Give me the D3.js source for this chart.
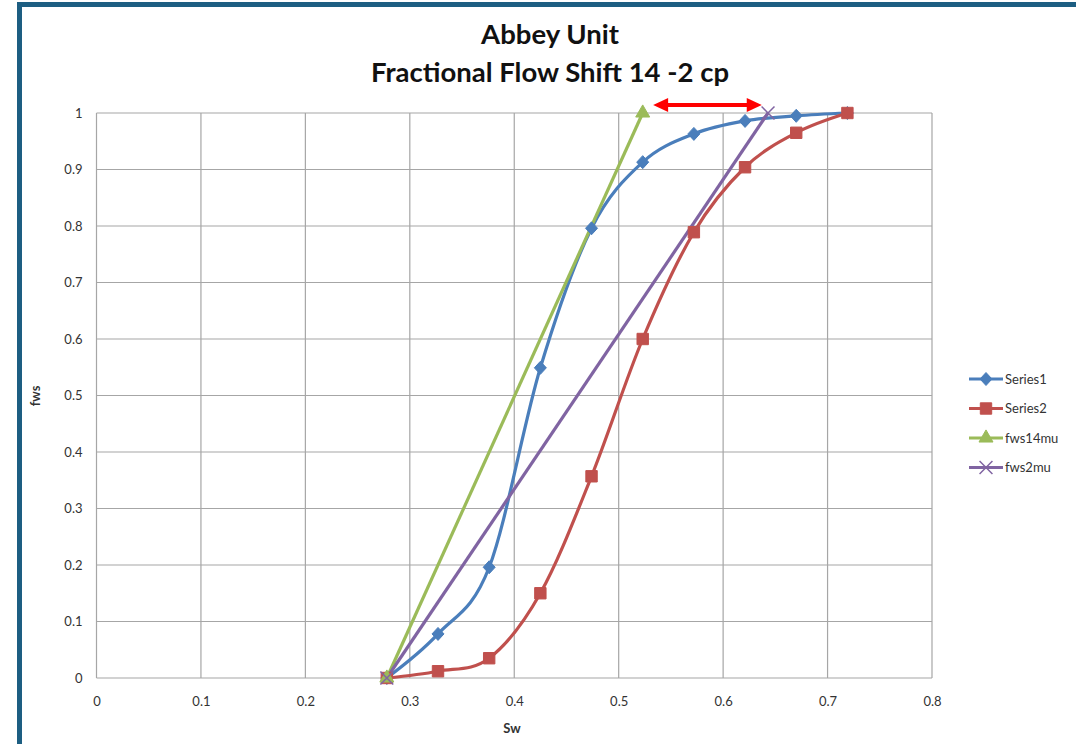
<!DOCTYPE html>
<html>
<head>
<meta charset="utf-8">
<script src="https://cdn.jsdelivr.net/npm/d3@7"></script>
<style>
  html, body { margin: 0; padding: 0; background: #fff; }
  svg { display: block; }
  text { font-family: Lato, "Open Sans", sans-serif; }
</style>
</head>
<body>
<svg id="chart" width="1076" height="744"></svg>
<script>
// ---- data ----
const sw = [0.278, 0.327, 0.376, 0.425, 0.474, 0.523, 0.572, 0.621, 0.670, 0.719];
const series1 = [0, 0.078, 0.196, 0.549, 0.796, 0.913, 0.963, 0.986, 0.995, 1.0];
const series2 = [0, 0.012, 0.035, 0.150, 0.357, 0.600, 0.789, 0.904, 0.965, 1.0];
const fws14muSw = [0.278, 0.523];
const fws14mu = [0, 1];
const fws2muSw = [0.278, 0.643];
const fws2mu = [0, 1];
const xTicks = [0, 0.1, 0.2, 0.3, 0.4, 0.5, 0.6, 0.7, 0.8];
const yTicks = [0, 0.1, 0.2, 0.3, 0.4, 0.5, 0.6, 0.7, 0.8, 0.9, 1];
const seriesNames = ["Series1", "Series2", "fws14mu", "fws2mu"];
const arrowSw = [0.533, 0.637];
const arrowY = 1.014;

const colors = ["#4A7EBB", "#C0504D", "#9BBB59", "#8064A2"];

const svg = d3.select("#chart");

// outer frame
svg.append("rect").attr("x", 19.5).attr("y", 4.5).attr("width", 1070).attr("height", 760)
  .attr("fill", "#fff").attr("stroke", "#1D5E82").attr("stroke-width", 5);

const x = d3.scaleLinear().domain([0, 0.8]).range([96.5, 932]);
const y = d3.scaleLinear().domain([0, 1]).range([678, 113]);

// gridlines
svg.append("g").selectAll("line.v").data(xTicks).join("line")
  .attr("x1", d => x(d)).attr("x2", d => x(d)).attr("y1", y(0)).attr("y2", y(1))
  .attr("stroke", "#A6A6A6").attr("stroke-width", 1.2);
svg.append("g").selectAll("line.h").data(yTicks).join("line")
  .attr("x1", x(0)).attr("x2", x(0.8)).attr("y1", d => y(d)).attr("y2", d => y(d))
  .attr("stroke", "#A6A6A6").attr("stroke-width", 1.2);

// axes (labels only)
const xAxis = svg.append("g").attr("transform", `translate(0,${y(0)})`)
  .call(d3.axisBottom(x).tickValues(xTicks).tickSize(0).tickPadding(19).tickFormat(d => d3.format("")(d)));
xAxis.select(".domain").remove();
xAxis.selectAll("text").attr("font-size", 13).attr("fill", "#333").attr("font-family", "Lato, sans-serif");

const yAxis = svg.append("g").attr("transform", `translate(${x(0)},0)`)
  .call(d3.axisLeft(y).tickValues(yTicks).tickSize(0).tickPadding(14).tickFormat(d => d3.format("")(d)));
yAxis.select(".domain").remove();
yAxis.selectAll("text").attr("font-size", 13).attr("fill", "#333").attr("font-family", "Lato, sans-serif");

// titles
svg.append("text").attr("x", 550).attr("y", 44).attr("text-anchor", "middle")
  .attr("font-size", 27.5).attr("font-weight", "bold").attr("fill", "#111").text("Abbey Unit");
svg.append("text").attr("x", 550).attr("y", 82).attr("text-anchor", "middle")
  .attr("font-size", 27.5).attr("font-weight", "bold").attr("fill", "#111").text("Fractional Flow Shift 14 -2 cp");
svg.append("text").attr("x", 512).attr("y", 733).attr("text-anchor", "middle")
  .attr("font-size", 13).attr("font-weight", "bold").attr("fill", "#333").text("Sw");
svg.append("text").attr("transform", "translate(40,396) rotate(-90)").attr("text-anchor", "middle")
  .attr("font-size", 13).attr("font-weight", "bold").attr("fill", "#333").text("fws");

// series
const smooth = d3.line().x(d => x(d[0])).y(d => y(d[1])).curve(d3.curveCardinal.tension(0));
const straight = d3.line().x(d => x(d[0])).y(d => y(d[1]));

const d1 = sw.map((s, i) => [s, series1[i]]);
const d2 = sw.map((s, i) => [s, series2[i]]);
const d3g = fws14muSw.map((s, i) => [s, fws14mu[i]]);
const d4 = fws2muSw.map((s, i) => [s, fws2mu[i]]);

function drawLine(data, gen, color) {
  svg.append("path").attr("d", gen(data)).attr("fill", "none")
    .attr("stroke", color).attr("stroke-width", 3.2).attr("stroke-linejoin", "round");
}
drawLine(d1, smooth, colors[0]);
drawLine(d2, smooth, colors[1]);
drawLine(d3g, straight, colors[2]);
drawLine(d4, straight, colors[3]);

// markers
const diamond = "M0,-6.5L6,0L0,6.5L-6,0Z";
const square = d3.symbol().type(d3.symbolSquare).size(130)();
const triangle = d3.symbol().type(d3.symbolTriangle).size(85)();
const cross = d3.symbol().type(d3.symbolX).size(110)();

function drawMarkers(data, sym, color, stroke) {
  svg.append("g").selectAll("path").data(data).join("path")
    .attr("transform", d => `translate(${x(d[0])},${y(d[1])})`)
    .attr("d", sym)
    .attr("fill", stroke ? "none" : color)
    .attr("stroke", color).attr("stroke-width", stroke ? 1.5 : 1);
}
drawMarkers(d1, diamond, colors[0]);
drawMarkers(d2, square, colors[1]);
drawMarkers(d3g, triangle, colors[2]);
drawMarkers(d4, cross, colors[3], true);

// double arrow annotation
const ax1 = x(arrowSw[0]), ax2 = x(arrowSw[1]), ay = y(arrowY);
svg.append("line").attr("x1", ax1 + 12).attr("x2", ax2 - 12).attr("y1", ay).attr("y2", ay)
  .attr("stroke", "#FF0000").attr("stroke-width", 4);
svg.append("path").attr("d", `M${ax1},${ay} L${ax1 + 15},${ay - 7} L${ax1 + 15},${ay + 7} Z`).attr("fill", "#FF0000");
svg.append("path").attr("d", `M${ax2},${ay} L${ax2 - 15},${ay - 7} L${ax2 - 15},${ay + 7} Z`).attr("fill", "#FF0000");

// legend
const legendSyms = [diamond, square, triangle, cross];
const lg = svg.append("g");
seriesNames.forEach((name, i) => {
  const ly = 379 + i * 29.5;
  lg.append("line").attr("x1", 969).attr("x2", 1003).attr("y1", ly).attr("y2", ly)
    .attr("stroke", colors[i]).attr("stroke-width", 3.2);
  lg.append("path").attr("transform", `translate(986,${ly})`).attr("d", legendSyms[i])
    .attr("fill", i === 3 ? "none" : colors[i]).attr("stroke", colors[i]).attr("stroke-width", i === 3 ? 1.5 : 1);
  lg.append("text").attr("x", 1005).attr("y", ly + 4.5).attr("font-size", 13)
    .attr("fill", "#333").text(name);
});
</script>
</body>
</html>
